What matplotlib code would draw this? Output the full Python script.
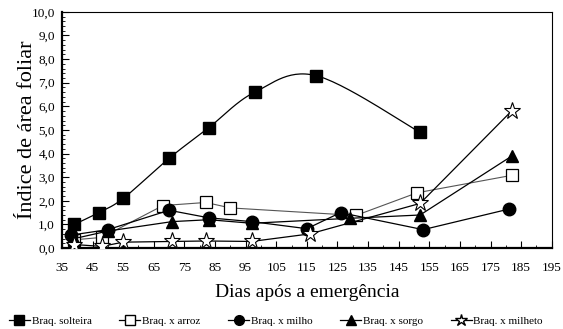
import numpy as np
import matplotlib
matplotlib.use("Agg")
import matplotlib.pyplot as plt
from matplotlib.ticker import MultipleLocator, FuncFormatter
from matplotlib.lines import Line2D

# ---- data ----
solteira_x = [39, 47, 55, 70, 83, 98, 118, 152]
solteira_y = [1.0, 1.5, 2.1, 3.8, 5.1, 6.6, 7.3, 4.9]

arroz_x = [39, 48, 68, 82, 90, 131, 151, 182]
arroz_y = [0.35, 0.45, 1.8, 1.93, 1.7, 1.38, 2.34, 3.08]

milho_x = [38, 50, 70, 83, 97, 115, 126, 153, 181]
milho_y = [0.55, 0.78, 1.6, 1.28, 1.12, 0.82, 1.5, 0.78, 1.65]

sorgo_x = [39, 50, 71, 83, 97, 129, 152, 182]
sorgo_y = [0.4, 0.72, 1.12, 1.2, 1.05, 1.26, 1.4, 3.9]

milheto_x = [39, 48, 55, 71, 82, 97, 116, 152, 182]
milheto_y = [0.15, 0.07, 0.25, 0.28, 0.3, 0.28, 0.6, 1.89, 5.82]

labels = ["Braq. solteira", "Braq. x arroz", "Braq. x milho",
          "Braq. x sorgo", "Braq. x milheto"]
xticks = list(range(35, 196, 10))
yticks = [i * 1.0 for i in range(0, 11)]
xlabel = "Dias após a emergência"
ylabel = "Índice de área foliar"

plt.rcParams['font.family'] = ['Liberation Serif', 'DejaVu Serif']


def catmull_rom(xs, ys, sx, sy, n=30):
    P = np.column_stack([np.asarray(xs, float) * sx, np.asarray(ys, float) * sy])
    P = np.vstack([P[0], P, P[-1]])
    out = []
    for i in range(1, len(P) - 2):
        p0, p1, p2, p3 = P[i - 1], P[i], P[i + 1], P[i + 2]
        c1 = p1 + (p2 - p0) / 6.0
        c2 = p2 - (p3 - p1) / 6.0
        t = np.linspace(0, 1, n)[:, None]
        seg = ((1 - t) ** 3) * p1 + 3 * ((1 - t) ** 2) * t * c1 + 3 * (1 - t) * t ** 2 * c2 + t ** 3 * p2
        out.append(seg if i == 1 else seg[1:])
    S = np.vstack(out)
    return S[:, 0] / sx, S[:, 1] / sy


fig = plt.figure(figsize=(5.63, 3.29), dpi=100)
ax = fig.add_axes([0.110, 0.246, 0.870, 0.718])

lw = 0.9
sx_, sy_ = catmull_rom(solteira_x, solteira_y, 490 / 160, 236 / 10)
ax.plot(sx_, sy_, color='black', lw=lw, zorder=2)
ax.plot(solteira_x, solteira_y, ls='none', marker='s', ms=9,
        mfc='black', mec='black', zorder=3)

ax.plot(arroz_x, arroz_y, color='#555555', lw=0.8, marker='s', ms=9,
        mfc='white', mec='black', mew=0.9, zorder=3)
ax.plot(milho_x, milho_y, color='black', lw=lw, marker='o', ms=9,
        mfc='black', mec='black', zorder=3)
ax.plot(sorgo_x, sorgo_y, color='black', lw=lw, marker='^', ms=9,
        mfc='black', mec='black', zorder=3)
ax.plot(milheto_x, milheto_y, color='black', lw=lw, marker='*', ms=12.5,
        mfc='white', mec='black', mew=0.8, zorder=3)

ax.set_xlim(35, 195)
ax.set_ylim(0, 10)
ax.set_xticks(xticks)
ax.set_yticks(yticks)
ax.xaxis.set_minor_locator(MultipleLocator(5))
ax.yaxis.set_minor_locator(MultipleLocator(0.2))
ax.yaxis.set_major_formatter(FuncFormatter(lambda v, p: f"{v:.1f}".replace('.', ',')))
ax.tick_params(axis='both', which='major', direction='in', length=5, width=0.8,
               labelsize=9.5, top=False, right=False)
ax.tick_params(axis='both', which='minor', direction='in', length=2.5, width=0.6,
               top=False, right=False)
ax.tick_params(axis='x', pad=10)
ax.tick_params(axis='y', pad=5)
for s in ax.spines.values():
    s.set_linewidth(0.8)
ax.spines['left'].set_linewidth(1.6)
ax.spines['bottom'].set_linewidth(1.6)

ax.set_xlabel(xlabel, fontsize=14, labelpad=7)
ax.set_ylabel(ylabel, fontsize=16)
ax.yaxis.set_label_coords(-0.05, 0.5)

lh1 = Line2D([], [], color='black', lw=lw, marker='s', ms=7, mfc='black', mec='black')
lh2 = Line2D([], [], color='black', lw=lw, marker='s', ms=7, mfc='white', mec='black')
lh3 = Line2D([], [], color='black', lw=lw, marker='o', ms=7, mfc='black', mec='black')
lh4 = Line2D([], [], color='black', lw=lw, marker='^', ms=7, mfc='black', mec='black')
lh5 = Line2D([], [], color='black', lw=lw, marker='*', ms=9, mfc='white', mec='black')
fig.legend([lh1, lh2, lh3, lh4, lh5], labels, loc='lower center',
           bbox_to_anchor=(0.49, -0.02), ncol=5, frameon=False, fontsize=8,
           handlelength=1.9, handletextpad=0.15, columnspacing=2.5)

fig.savefig("out.png", dpi=100)
